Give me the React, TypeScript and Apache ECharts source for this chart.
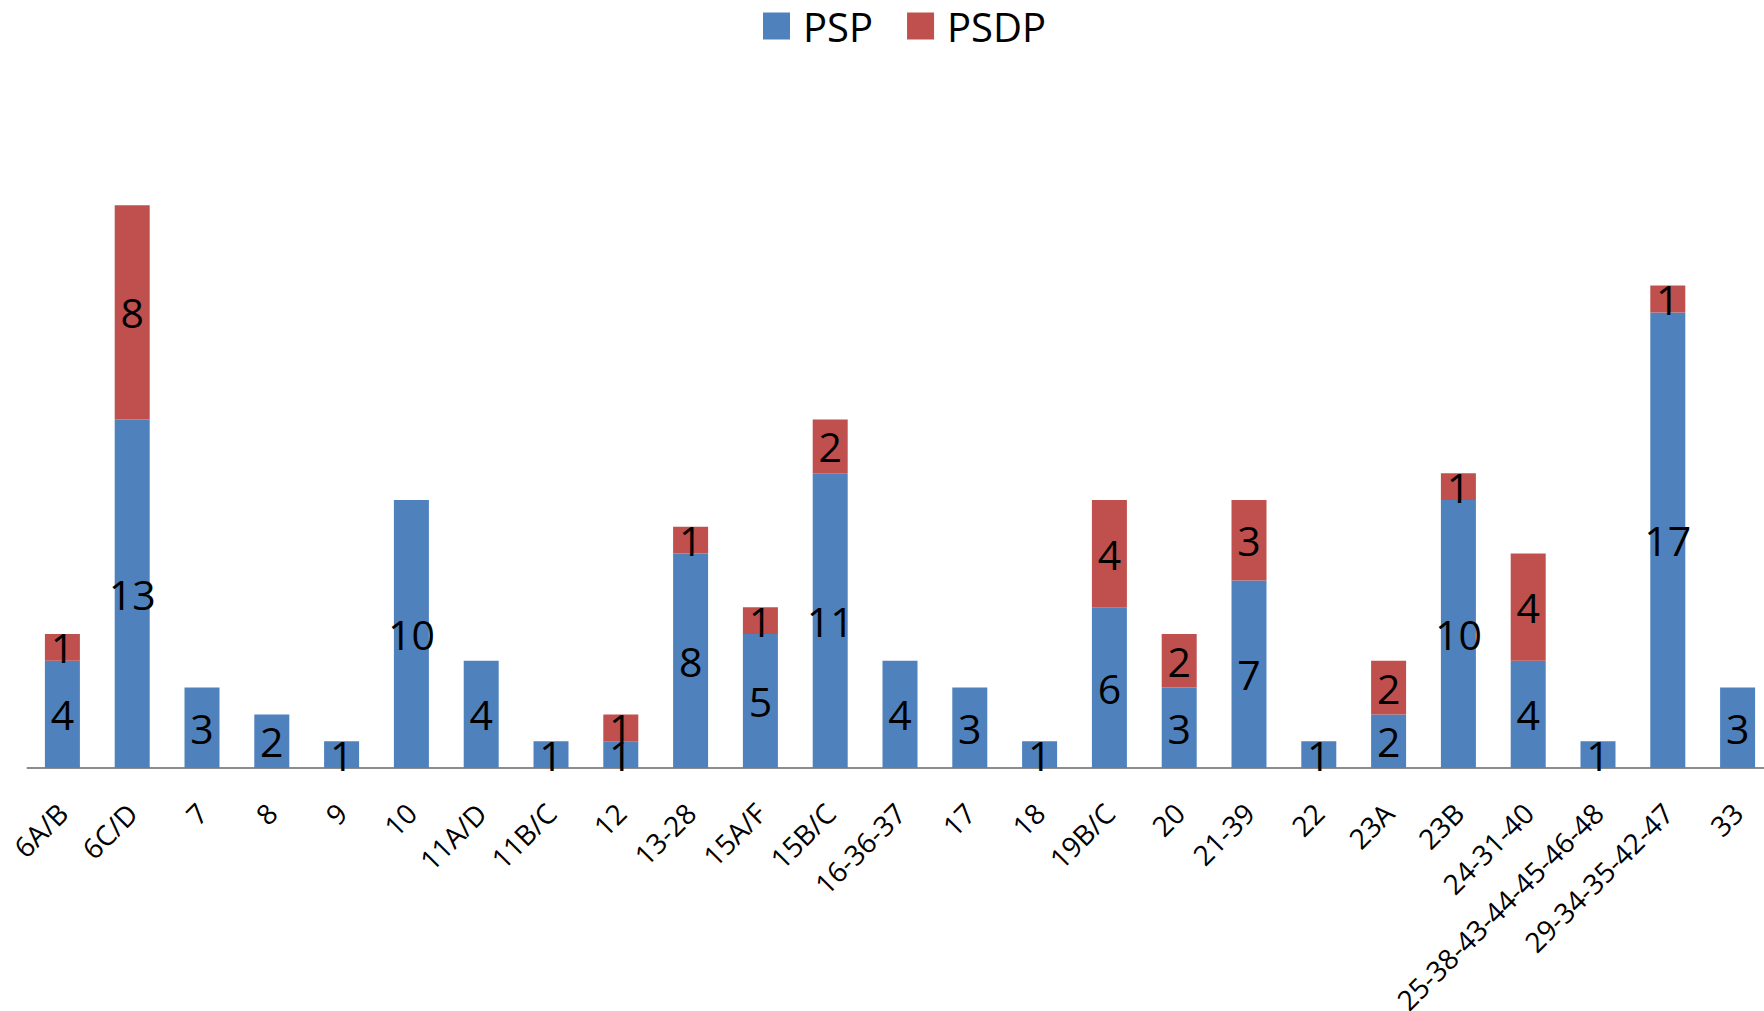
import React, { useEffect, useRef } from "react";
import * as echarts from "echarts";

const categories = [
  "6A/B", "6C/D", "7", "8", "9", "10", "11A/D", "11B/C", "12", "13-28", "15A/F", "15B/C",
  "16-36-37", "17", "18", "19B/C", "20", "21-39", "22", "23A", "23B", "24-31-40",
  "25-38-43-44-45-46-48", "29-34-35-42-47", "33",
];
const pspValues = [4, 13, 3, 2, 1, 10, 4, 1, 1, 8, 5, 11, 4, 3, 1, 6, 3, 7, 1, 2, 10, 4, 1, 17, 3];
const psdpValues = [1, 8, 0, 0, 0, 0, 0, 0, 1, 1, 1, 2, 0, 0, 0, 4, 2, 3, 0, 2, 1, 4, 0, 1, 0];

const FONT = "'Open Sans', 'Liberation Sans', sans-serif";

export default function App() {
  const ref = useRef<HTMLDivElement>(null);
  useEffect(() => {
    document.body.style.margin = "0";
    const chart = echarts.init(ref.current!, undefined, { renderer: "svg" });
    const label = {
      show: true,
      position: "inside",
      color: "#000",
      fontSize: 41,
      fontFamily: FONT,
      formatter: (p: any) => (p.value ? String(p.value) : ""),
    };
    chart.setOption({
      animation: false,
      textStyle: { fontFamily: FONT },
      legend: {
        left: 758,
        top: 1,
        itemWidth: 27,
        itemHeight: 27,
        itemGap: 34,
        icon: "rect",
        textStyle: { fontSize: 40, color: "#000", fontFamily: FONT, padding: [0, 0, 0, 8] },
        data: ["PSP", "PSDP"],
      },
      grid: {
        left: 27.5,
        width: 1745,
        top: 98,
        bottom: 243,
        containLabel: false,
        outerBoundsMode: "none",
      },
      xAxis: {
        type: "category",
        data: categories,
        axisTick: { show: false },
        axisLine: { show: true, lineStyle: { color: "#8c8c8c", width: 2 } },
        axisLabel: {
          interval: 0,
          rotate: 45,
          margin: 40,
          fontSize: 28,
          color: "#000",
          fontFamily: FONT,
        },
      },
      yAxis: {
        type: "value",
        min: 0,
        max: 25,
        show: false,
        splitLine: { show: false },
      },
      series: [
        {
          name: "PSP",
          type: "bar",
          stack: "total",
          barWidth: 35,
          itemStyle: { color: "#4F81BD" },
          label,
          data: pspValues,
        },
        {
          name: "PSDP",
          type: "bar",
          stack: "total",
          barWidth: 35,
          itemStyle: { color: "#C0504D" },
          label,
          data: psdpValues,
        },
      ],
    });
    return () => chart.dispose();
  }, []);
  return <div ref={ref} style={{ width: 1764, height: 1011 }} />;
}
